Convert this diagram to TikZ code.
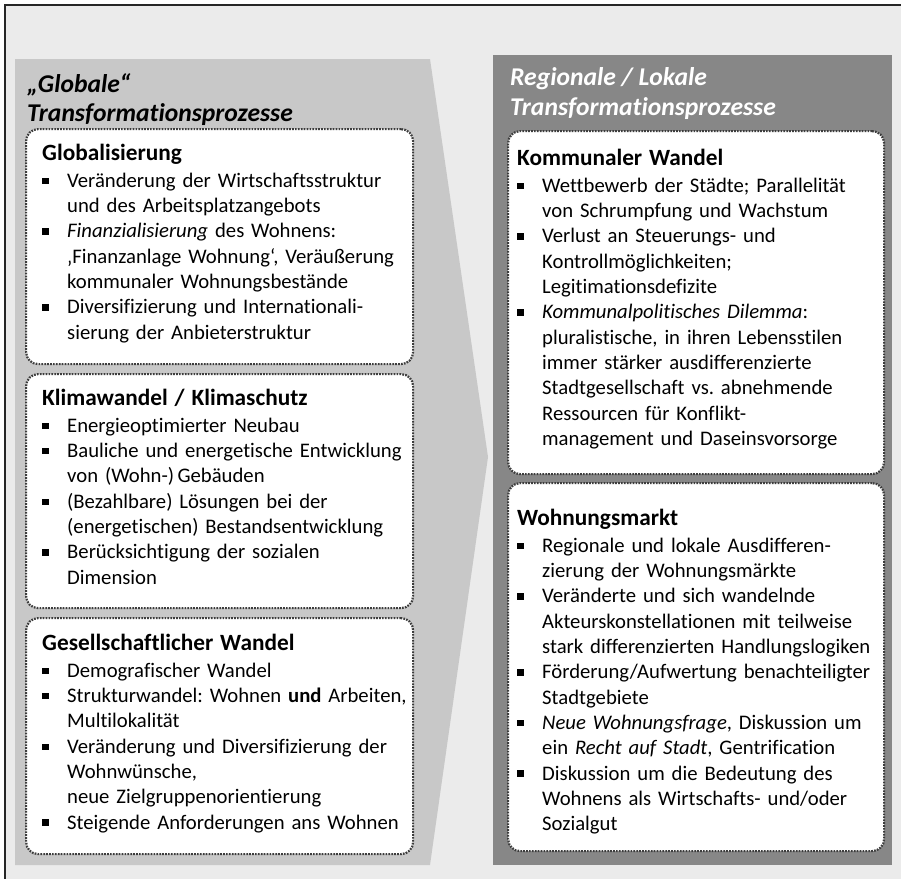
\documentclass[tikz,border=0pt]{standalone}
\usepackage{fontspec}
\setmainfont[Ligatures=NoCommon]{Carlito}
\usepackage{xcolor}
\usepackage{tikz}
\usetikzlibrary{positioning}

\definecolor{bggray}{HTML}{EBEBEB}
\definecolor{lightpanel}{HTML}{C8C8C8}
\definecolor{darkpanel}{HTML}{878787}
\definecolor{dotgray}{HTML}{3C3C3C}

\frenchspacing
% bullet item with hanging indent
\newcommand{\bitem}[1]{\par\noindent\hangindent=25pt\hangafter=1%
  \makebox[25pt][l]{\rule[3.2pt]{6.5pt}{6.5pt}}#1\par}
\newcommand{\boxhead}[1]{\noindent{\fontsize{23.3}{25}\selectfont\bfseries #1}\par\vspace{1.5pt}}

\begin{document}
\begin{tikzpicture}[x=1pt, y=-1pt,
    box/.style={draw=dotgray, fill=white, line width=2.2pt, dash pattern=on 1.7pt off 1.2pt,
      rounded corners=12pt, inner sep=0pt, anchor=north west},
    txt/.style={inner sep=0pt, text width=420pt, align=left,
      font=\fontsize{20.7}{25.3}\selectfont},
    paneltitle/.style={inner sep=0pt, anchor=north west, align=left,
      font=\fontsize{25.6}{28}\selectfont\bfseries\itshape}]
    \clip (0,0) rectangle (901,878);
    % Background and frame
    \draw[line width=1.2pt, black!85, fill=bggray] (5,5) rectangle (930,900);

    % Panels
    \fill[lightpanel] (15,59) -- (430,59) -- (488,457) -- (430,865) -- (15,865) -- cycle;
    \fill[darkpanel] (493,55) rectangle (892,865);

    % Titles
    \node[paneltitle] (globtitle) at (27,73) {„Globale“\\[1.5pt]Transformationsprozesse};
    \node[paneltitle, text=white] (regtitle) at (510,67) {Regionale / Lokale\\[2pt]Transformationsprozesse};

    % Left boxes
    \node[box, minimum width=387pt, minimum height=235pt] (glob) at (25,128) {};
    \node[box, minimum width=387pt, minimum height=234pt] (klima) at (25,373) {};
    \node[box, minimum width=387pt, minimum height=236pt] (gesell) at (25,617) {};

    % Right boxes
    \node[box, minimum width=376pt, minimum height=343pt] (kommunal) at (507,130) {};
    \node[box, minimum width=376pt, minimum height=368pt] (wohnmarkt) at (507,482) {};

    % Texts
    \node[txt, below right=16pt and 17pt of glob.north west] (globtxt) {%
      \boxhead{Globalisierung}
      \bitem{Veränderung der Wirtschaftsstruktur\newline und des Arbeitsplatzangebots}
      \bitem{\textit{Finanzialisierung} des Wohnens:\newline ‚Finanzanlage Wohnung‘, Veräußerung\newline kommunaler Wohnungsbestände}
      \bitem{Diversifizierung und Internationali-\newline sierung der Anbieterstruktur}};
    \node[txt, below right=16pt and 17pt of klima.north west] (klimatxt) {%
      \boxhead{Klimawandel / Klimaschutz}
      \bitem{Energieoptimierter Neubau}
      \bitem{Bauliche und energetische Entwicklung\newline von (Wohn-)\,Gebäuden}
      \bitem{(Bezahlbare) Lösungen bei der\newline (energetischen) Bestandsentwicklung}
      \bitem{Berücksichtigung der sozialen\newline Dimension}};
    \node[txt, below right=17pt and 17pt of gesell.north west] (geselltxt) {%
      \boxhead{Gesellschaftlicher Wandel}
      \bitem{Demografischer Wandel}
      \bitem{Strukturwandel: Wohnen \textbf{und} Arbeiten,\newline Multilokalität}
      \bitem{Veränderung und Diversifizierung der\newline Wohnwünsche,\newline neue Zielgruppenorientierung}
      \bitem{Steigende Anforderungen ans Wohnen}};
    \node[txt, below right=19pt and 10pt of kommunal.north west] (kommunaltxt) {%
      \boxhead{Kommunaler Wandel}
      \bitem{Wettbewerb der Städte; Parallelität\newline von Schrumpfung und Wachstum}
      \bitem{Verlust an Steuerungs- und\newline Kontrollmöglichkeiten;\newline Legitimationsdefizite}
      \bitem{\textit{Kommunalpolitisches Dilemma}:\newline pluralistische, in ihren Lebensstilen\newline immer stärker ausdifferenzierte\newline Stadtgesellschaft vs. abnehmende\newline Ressourcen für Konflikt-\newline management und Daseinsvorsorge}};
    \node[txt, below right=27pt and 10pt of wohnmarkt.north west] (wohnmarkttxt) {%
      \boxhead{Wohnungsmarkt}
      \bitem{Regionale und lokale Ausdifferen-\newline zierung der Wohnungsmärkte}
      \bitem{Veränderte und sich wandelnde\newline Akteurskonstellationen mit teilweise\newline stark differenzierten Handlungslogiken}
      \bitem{Förderung/Aufwertung benachteiligter\newline Stadtgebiete}
      \bitem{\textit{Neue Wohnungsfrage}, Diskussion um\newline ein \textit{Recht auf Stadt}, Gentrification}
      \bitem{Diskussion um die Bedeutung des\newline Wohnens als Wirtschafts- und/oder\newline Sozialgut}};
\end{tikzpicture}
\end{document}
